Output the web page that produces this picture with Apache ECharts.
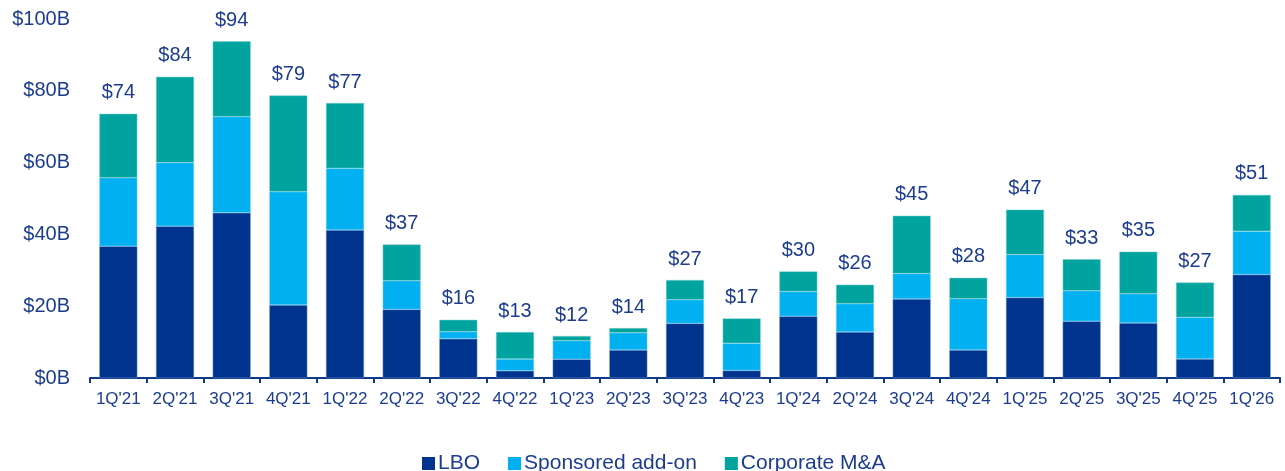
<!DOCTYPE html>
<html lang="en">
<head>
<meta charset="UTF-8">
<title>Deal volume by quarter</title>
<script src="https://cdn.jsdelivr.net/npm/echarts@6/dist/echarts.min.js"></script>
<style>
  html, body { margin: 0; padding: 0; background: #fff; }
  #main { width: 1285px; height: 471px; }
</style>
</head>
<body>
<div id="main"></div>
<script type="text/javascript">
  // quarters and the three stacked pieces ($B)
  var quarters = ["1Q'21","2Q'21","3Q'21","4Q'21","1Q'22","2Q'22","3Q'22","4Q'22","1Q'23","2Q'23","3Q'23",
                  "4Q'23","1Q'24","2Q'24","3Q'24","4Q'24","1Q'25","2Q'25","3Q'25","4Q'25","1Q'26"];
  var lbo       = [36.7, 42.3, 46.0, 20.3, 41.2, 19.1, 10.9, 2.0, 5.2, 7.8, 15.2, 2.1, 17.2, 12.8, 22.0, 7.8, 22.4, 15.8, 15.3, 5.3, 28.8];
  var addOn     = [19.1, 17.7, 26.8, 31.6, 17.2, 8.0, 2.0, 3.3, 5.2, 4.8, 6.6, 7.6, 6.9, 7.9, 7.1, 14.3, 12.0, 8.5, 8.2, 11.6, 12.1];
  var corporate = [17.8, 23.9, 21.0, 26.8, 18.2, 10.1, 3.3, 7.5, 1.3, 1.3, 5.5, 6.9, 5.6, 5.3, 16.1, 5.8, 12.5, 8.8, 11.7, 9.7, 10.1];
  var yTicks = [0, 20, 40, 60, 80, 100];

  var navy = '#1C3C90';
  var font = 'Liberation Sans, Arial, sans-serif';

  var totals = quarters.map(function (q, i) {
    return lbo[i] + addOn[i] + corporate[i];
  });

  var myChart = echarts.init(document.getElementById('main'));

  myChart.setOption({
    animation: false,
    textStyle: { fontFamily: font },
    grid: { left: 90, right: 5, top: 19, bottom: 93 },
    legend: {
      top: 448,
      left: 417,
      icon: 'rect',
      itemWidth: 13,
      itemHeight: 13,
      itemGap: 28,
      itemStyle: { borderWidth: 0 },
      textStyle: { color: navy, fontSize: 21, fontFamily: font, padding: [0, 0, 0, -2] },
      data: ['LBO', 'Sponsored add-on', 'Corporate M&A']
    },
    xAxis: {
      type: 'category',
      data: quarters,
      axisLine: { lineStyle: { color: '#0E3A8C', width: 2 } },
      axisTick: { show: true, alignWithLabel: false, length: 5, lineStyle: { color: '#0E3A8C', width: 2 } },
      axisLabel: { color: navy, fontSize: 17, margin: 13, interval: 0 }
    },
    yAxis: {
      type: 'value',
      min: yTicks[0],
      max: yTicks[yTicks.length - 1],
      interval: 20,
      splitLine: { show: false },
      axisLine: { show: false },
      axisTick: { show: false },
      axisLabel: {
        color: navy, fontSize: 20, margin: 20,
        formatter: function (v) { return '$' + v + 'B'; }
      }
    },
    series: [
      {
        name: 'LBO', type: 'bar', stack: 'deals', data: lbo,
        barCategoryGap: '33%',
        itemStyle: { color: '#00338D', borderColor: '#6f8fc9', borderWidth: 0.5 }
      },
      {
        name: 'Sponsored add-on', type: 'bar', stack: 'deals', data: addOn,
        itemStyle: { color: '#00B0F0', borderColor: '#7fd3f3', borderWidth: 0.5 }
      },
      {
        name: 'Corporate M&A', type: 'bar', stack: 'deals', data: corporate,
        itemStyle: { color: '#00A39E', borderColor: '#7fd0cd', borderWidth: 0.5 },
        label: {
          show: true,
          position: 'top',
          distance: 11,
          color: navy,
          fontSize: 20,
          formatter: function (p) { return '$' + Math.round(totals[p.dataIndex]); }
        }
      }
    ]
  });
</script>
</body>
</html>
